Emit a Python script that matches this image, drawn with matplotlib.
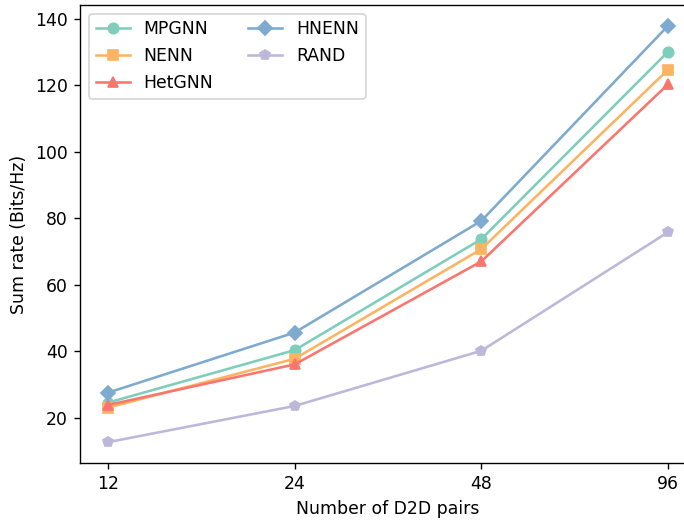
import matplotlib
matplotlib.use("Agg")
import matplotlib.pyplot as plt
import numpy as np

# D2D pair counts (plotted as equally spaced categories)
pairs = ["12", "24", "48", "96"]

mpgnn = [24.5, 40.3, 73.7, 130.1]
nenn = [23.0, 37.7, 70.7, 124.7]
hetgnn = [23.8, 36.0, 67.0, 120.3]
hnenn = [27.5, 45.6, 79.2, 137.9]
rand = [12.6, 23.5, 40.1, 75.8]

x = np.arange(len(pairs))

fig = plt.figure(figsize=(684 / 124, 520 / 124), dpi=124)
ax = fig.add_axes([80 / 684, 57 / 520, 616 / 684, 458 / 520])

ax.plot(x, mpgnn, marker='o', color='#7fcdbb', label='MPGNN')
ax.plot(x, nenn, marker='s', color='#fdb462', label='NENN')
ax.plot(x, hetgnn, marker='^', color='#f8766d', label='HetGNN')
ax.plot(x, hnenn, marker='D', color='#7eaad0', label='HNENN')
ax.plot(x, rand, marker='p', color='#bdb8da', label='RAND')

ax.set_xticks(x)
ax.set_xticklabels(pairs)
ax.set_xlabel('Number of D2D pairs')
ax.set_ylabel('Sum rate (Bits/Hz)')
ax.legend(loc='upper left', ncol=2)

fig.savefig('out.png', dpi=124)
